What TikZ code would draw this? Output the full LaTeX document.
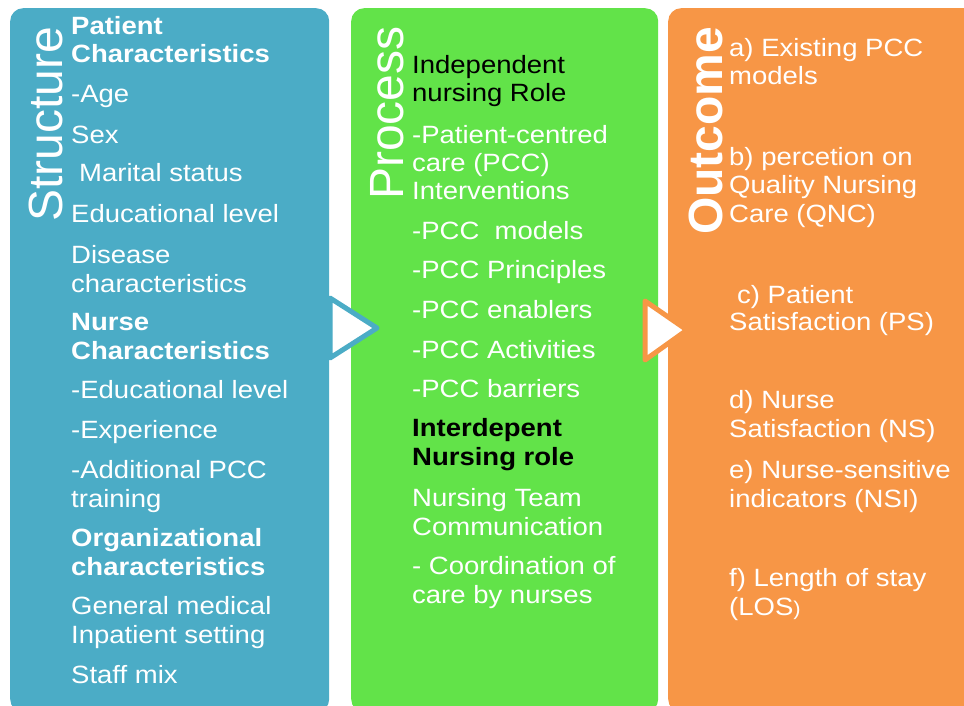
\documentclass[tikz,border=0pt]{standalone}
\usepackage{fontspec}
\setmainfont{Liberation Sans}[FakeStretch=1.1]
\newfontfamily\titlefont{Liberation Sans}
\definecolor{structblue}{HTML}{4BACC6}
\definecolor{processgreen}{HTML}{62E349}
\definecolor{outcomeorange}{HTML}{F79646}
\newcommand{\itemsize}{\fontsize{25}{28.5}\selectfont}

\begin{document}
\begin{tikzpicture}[
  x=1pt, y=-1pt,
  panel/.style={rounded corners=13pt, inner sep=0, minimum height=704pt, anchor=north west},
  vtitle/.style={rotate=90, anchor=base west, inner sep=0, text=white, font=\titlefont\fontsize{48}{48}\selectfont},
  entry/.style={anchor=base west, inner sep=0, align=left, text=white, font=\itemsize},
  heading/.style={entry, font=\itemsize\bfseries},
  chevron/.style={fill=white, line width=5pt, line join=round}
]
  \useasboundingbox (0,0) rectangle (964,706);
  \fill[white] (0,0) rectangle (964,706);

  % columns
  \node[panel, fill=structblue, minimum width=319pt] (structure) at (10,8) {};
  \node[panel, fill=processgreen, minimum width=307pt] (process) at (351,8) {};
  \node[panel, fill=outcomeorange, minimum width=310pt] (outcome) at (668,8) {};

  % arrows between columns
  \draw[chevron, draw=structblue] (330,298) -- (377,328) -- (330,358) -- cycle;
  \draw[chevron, draw=outcomeorange] (645,301) -- (687,330) -- (645,360) -- cycle;

  % titles
  \node[vtitle] (structtitle) at (62,222) {Structure};
  \node[vtitle] (proctitle) at (403,200) {Process};
  \node[vtitle, font=\titlefont\fontsize{48}{48}\selectfont\bfseries] (outtitle) at (722,235) {Outcome};

  % structure items (anchored on the last line)
  \node[heading] (patient) at (71,63) {Patient\\Characteristics};
  \node[entry] (age) at (71,103) {-Age};
  \node[entry] (sex) at (71,143) {Sex};
  \node[entry] (marital) at (79,182) {Marital status};
  \node[entry] (educ) at (71,222) {Educational level};
  \node[entry] (disease) at (71,292) {Disease\\characteristics};
  \node[heading] (nurse) at (71,359) {Nurse\\Characteristics};
  \node[entry] (nurseeduc) at (71,398) {-Educational level};
  \node[entry] (experience) at (71,438) {-Experience};
  \node[entry] (training) at (71,507) {-Additional PCC\\training};
  \node[heading] (organ) at (71,575) {Organizational\\characteristics};
  \node[entry] (setting) at (71,643) {General medical\\Inpatient setting};
  \node[entry] (staff) at (71,683) {Staff mix};

  % process items
  \node[entry, text=black] (independent) at (412,102) {Independent\\nursing Role};
  \node[entry] (pcc) at (412,200) {-Patient-centred\\care (PCC)\\Interventions};
  \node[entry] (models) at (412,239) {-PCC\ \ models};
  \node[entry] (principles) at (412,278) {-PCC Principles};
  \node[entry] (enablers) at (412,318) {-PCC enablers};
  \node[entry] (activities) at (412,358) {-PCC Activities};
  \node[entry] (barriers) at (412,397) {-PCC barriers};
  \node[heading, text=black] (interdep) at (412,465) {Interdepent\\Nursing role};
  \node[entry] (team) at (412,535) {Nursing Team\\Communication};
  \node[entry] (coord) at (412,603) {- Coordination of\\care by nurses};

  % outcome items
  \node[entry] (existing) at (729,85) {a) Existing PCC\\models};
  \node[entry] (qnc) at (729,222) {b) percetion on\\Quality Nursing\\Care (QNC)};
  \node[entry] (ps) at (737,303) {c) Patient};
  \node[entry] (psb) at (729,330) {Satisfaction (PS)};
  \node[entry] (ns) at (729,437) {d) Nurse\\Satisfaction (NS)};
  \node[entry] (nsi) at (729,507) {e) Nurse-sensitive\\indicators (NSI)};
  \node[entry] (los) at (729,615) {f) Length of stay\\(LOS{\fontsize{20}{20}\selectfont)}};
\end{tikzpicture}
\end{document}
